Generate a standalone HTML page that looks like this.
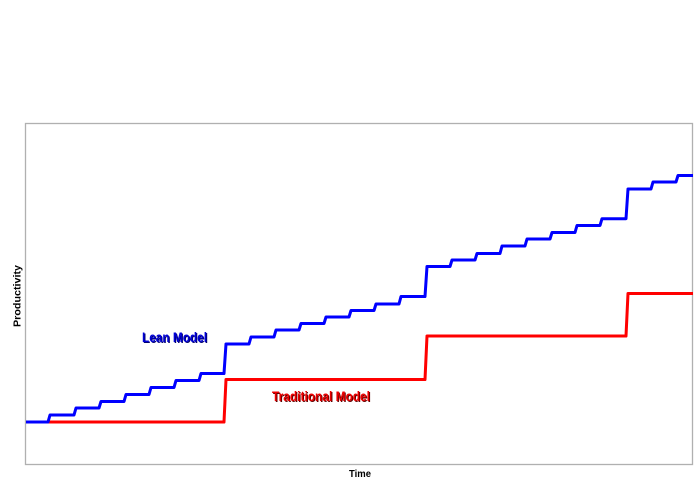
<!DOCTYPE html>
<html>
<head>
<meta charset="utf-8">
<style>
  html, body { margin: 0; padding: 0; background: #ffffff; }
  svg { display: block; }
  text { font-family: "Liberation Sans Narrow", "Liberation Sans", sans-serif; font-weight: bold; }
</style>
</head>
<body>
<svg width="698" height="498" viewBox="0 0 698 498" xmlns="http://www.w3.org/2000/svg">
  <rect x="0" y="0" width="698" height="498" fill="#ffffff"/>
  <rect x="25.5" y="123.5" width="667" height="341" fill="none" stroke="#b0b0b0" stroke-width="1.3"/>

  <!-- Traditional model (red) -->
  <path d="M26,422 H224 L226,379.5 H425 L427,336 H626 L628,293.5 H693"
        fill="none" stroke="#ff0000" stroke-width="3" stroke-linejoin="round"/>

  <!-- Lean model (blue) -->
  <path d="M26,422 H48 L50,415 H74 L76,408 H99 L101,401.5 H124 L126,394.5 H149 L151,387.5 H174 L176,380.5 H199 L201,373.5 H224 L226,344 H249 L251,337 H274 L276,330 H299 L301,323.5 H324 L326,317 H349 L351,310.5 H374 L376,304 H399 L401,296.5 H425 L427,266.5 H450 L452,260 H475 L477,253.5 H500 L502,246 H525 L527,239 H550 L552,232.5 H575 L577,225.5 H600 L602,218.7 H626 L628,189 H651 L653,182 H676 L678,175.5 H693"
        fill="none" stroke="#0000ff" stroke-width="3" stroke-linejoin="round"/>

  <!-- Labels -->
  <text x="143" y="343" font-size="14" fill="#000070" textLength="65" lengthAdjust="spacingAndGlyphs">Lean Model</text>
  <text x="142" y="342" font-size="14" fill="#0000d8" textLength="65" lengthAdjust="spacingAndGlyphs">Lean Model</text>

  <text x="273" y="402" font-size="14" fill="#600000" textLength="98" lengthAdjust="spacingAndGlyphs">Traditional Model</text>
  <text x="272" y="401" font-size="14" fill="#ee0000" textLength="98" lengthAdjust="spacingAndGlyphs">Traditional Model</text>

  <text x="349" y="477" font-size="10" fill="#000000" textLength="22" lengthAdjust="spacingAndGlyphs">Time</text>

  <text transform="translate(20.5,296) rotate(-90)" x="0" y="0" text-anchor="middle" font-size="10" fill="#000000" textLength="62" lengthAdjust="spacingAndGlyphs">Productivity</text>
</svg>
</body>
</html>
